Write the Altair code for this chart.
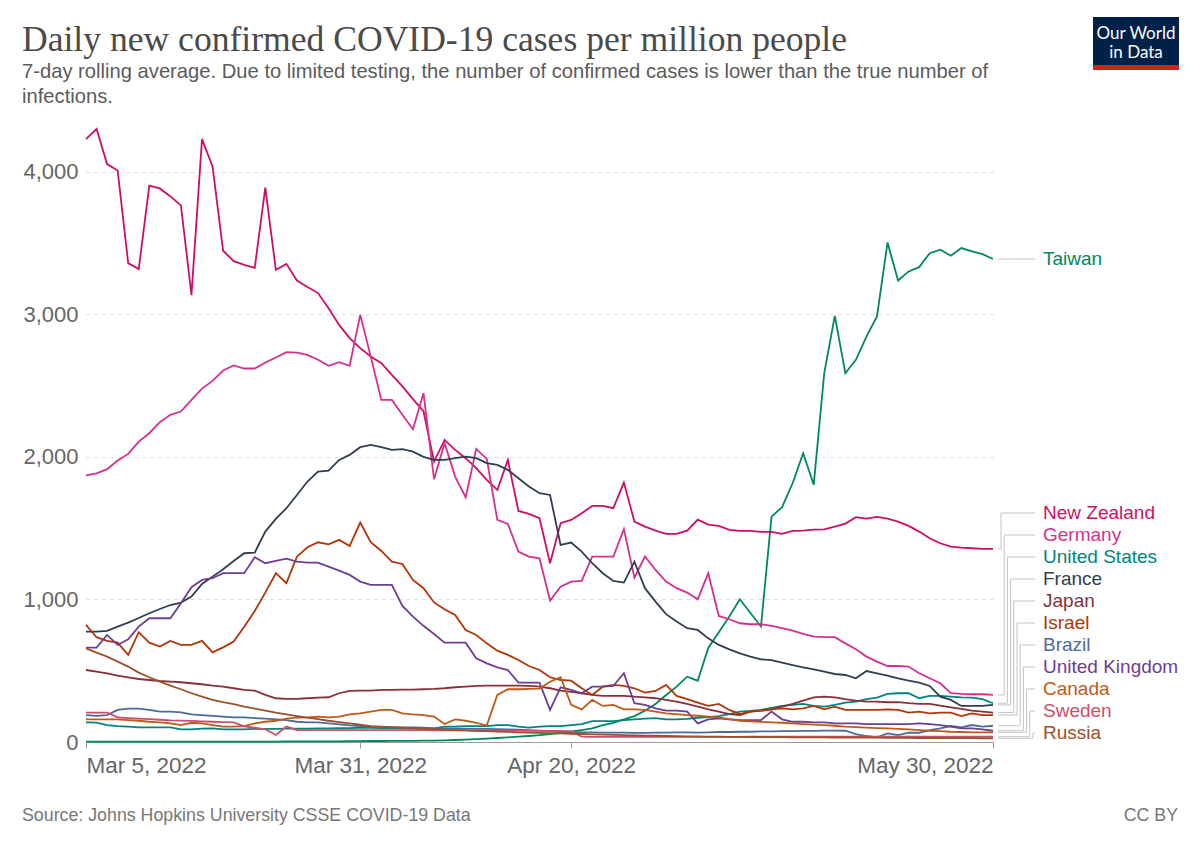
import altair as alt
import pandas as pd

# ---------------- data ----------------
dates = [d.strftime("%Y-%m-%d") for d in pd.date_range("2022-03-05", "2022-05-30")]

new_zealand = [4229, 4300, 4054, 4009, 3359, 3317, 3902, 3883, 3827, 3764, 3135, 4229, 4037, 3446, 3373,
               3347, 3326, 3888, 3312, 3354, 3237, 3191, 3149, 3043, 2926, 2833, 2763, 2704, 2657, 2575,
               2494, 2405, 2320, 1967, 2119, 2049, 1991, 1921, 1839, 1768, 1979, 1621, 1600, 1570, 1254,
               1535, 1558, 1605, 1656, 1656, 1640, 1820, 1546, 1511, 1483, 1460, 1460, 1483, 1560, 1525,
               1516, 1488, 1481, 1481, 1474, 1474, 1460, 1481, 1483, 1490, 1492, 1511, 1532, 1577, 1567,
               1579, 1567, 1546, 1516, 1476, 1429, 1394, 1371, 1364, 1359, 1355, 1355]
germany = [1871, 1885, 1914, 1974, 2021, 2107, 2166, 2243, 2295, 2318, 2400, 2479, 2533, 2606, 2641,
           2620, 2620, 2662, 2697, 2735, 2732, 2716, 2681, 2639, 2664, 2639, 2996, 2704, 2400, 2400,
           2295, 2194, 2447, 1843, 2096, 1862, 1717, 2056, 1986, 1558, 1530, 1336, 1301, 1289, 992,
           1090, 1125, 1130, 1301, 1301, 1301, 1493, 1153, 1301, 1207, 1125, 1079, 1048, 1001, 1184,
           884, 861, 833, 826, 826, 814, 798, 781, 758, 739, 735, 735, 692, 650, 599,
           564, 533, 533, 529, 482, 447, 412, 342, 337, 335, 335, 330]
united_states = [138, 136, 119, 112, 108, 103, 103, 103, 103, 89, 89, 94, 96, 89, 89,
                 89, 92, 92, 92, 94, 94, 94, 96, 96, 98, 98, 100, 100, 98, 98,
                 96, 96, 96, 96, 108, 108, 112, 112, 112, 119, 119, 108, 101, 108, 112,
                 112, 119, 126, 147, 147, 147, 154, 159, 164, 168, 159, 159, 162, 170, 175,
                 182, 195, 213, 218, 225, 240, 253, 260, 267, 253, 248, 260, 276, 283, 300,
                 311, 337, 342, 342, 307, 323, 323, 318, 313, 311, 300, 272]
france = [774, 774, 779, 809, 837, 870, 903, 933, 961, 978, 1020, 1109, 1160, 1212, 1270,
          1324, 1329, 1476, 1565, 1640, 1733, 1827, 1897, 1904, 1979, 2014, 2068, 2084, 2068, 2049,
          2054, 2037, 2000, 1979, 1979, 1991, 2002, 1991, 1956, 1944, 1909, 1850, 1792, 1745, 1733,
          1382, 1399, 1336, 1254, 1184, 1130, 1118, 1265, 1079, 985, 897, 845, 798, 786, 727,
          681, 650, 622, 599, 580, 575, 557, 540, 524, 510, 494, 477, 470, 447, 498,
          482, 465, 447, 430, 416, 393, 318, 295, 253, 253, 253, 260]
japan = [505, 494, 482, 465, 454, 442, 435, 428, 423, 419, 412, 405, 395, 388, 377,
         365, 360, 330, 307, 302, 302, 307, 311, 314, 342, 358, 360, 360, 365, 365,
         367, 367, 370, 372, 377, 384, 388, 393, 395, 395, 395, 395, 393, 388, 377,
         360, 351, 342, 330, 323, 323, 323, 318, 313, 307, 295, 283, 267, 248, 229,
         213, 196, 189, 213, 220, 229, 248, 267, 290, 313, 318, 313, 300, 290, 283,
         283, 279, 279, 272, 267, 267, 255, 243, 232, 220, 213, 206]
israel = [821, 735, 709, 697, 611, 770, 697, 669, 709, 681, 681, 709, 629, 664, 704,
          809, 919, 1048, 1184, 1114, 1300, 1366, 1401, 1387, 1418, 1375, 1539, 1401, 1340, 1265,
          1249, 1137, 1079, 979, 931, 891, 786, 751, 692, 641, 611, 575, 533, 505, 454,
          435, 430, 377, 330, 388, 400, 393, 377, 346, 358, 400, 323, 300, 276, 253,
          267, 225, 196, 213, 220, 229, 236, 229, 236, 253, 229, 248, 225, 225, 225,
          225, 229, 225, 206, 213, 201, 206, 206, 182, 201, 189, 189]
brazil = [189, 183, 189, 225, 234, 234, 225, 213, 213, 208, 194, 189, 183, 178, 173,
          173, 168, 164, 159, 154, 142, 138, 138, 131, 124, 117, 112, 108, 103, 103,
          103, 103, 100, 96, 96, 94, 94, 92, 92, 90, 88, 86, 84, 80, 76,
          72, 70, 68, 68, 66, 66, 66, 64, 64, 66, 66, 68, 68, 66, 68,
          70, 70, 72, 72, 74, 74, 76, 76, 78, 78, 80, 80, 79, 56, 42,
          33, 61, 49, 65, 65, 84, 96, 112, 103, 119, 108, 114]
united_kingdom = [662, 662, 751, 681, 721, 809, 868, 868, 868, 973, 1086, 1137, 1149, 1184, 1184,
                  1184, 1296, 1254, 1270, 1286, 1265, 1258, 1258, 1230, 1202, 1172, 1125, 1102, 1102, 1102,
                  954, 879, 815, 757, 697, 697, 697, 587, 552, 524, 505, 416, 416, 416, 225,
                  384, 365, 342, 388, 388, 393, 482, 272, 260, 236, 220, 220, 213, 131, 159,
                  166, 159, 154, 154, 154, 213, 159, 142, 142, 138, 138, 131, 131, 131, 126,
                  126, 126, 126, 126, 131, 126, 119, 108, 96, 96, 89, 79]
canada = [159, 159, 159, 159, 154, 149, 142, 138, 131, 119, 135, 131, 119, 108, 108,
          112, 131, 142, 149, 164, 171, 173, 178, 173, 178, 194, 201, 213, 225, 225,
          201, 194, 189, 178, 126, 159, 149, 135, 115, 330, 370, 370, 372, 375, 423,
          454, 260, 229, 295, 253, 260, 229, 229, 225, 213, 201, 196, 189, 184, 178,
          173, 160, 149, 145, 142, 138, 135, 130, 126, 122, 119, 114, 108, 105, 101,
          98, 96, 92, 89, 84, 79, 76, 72, 70, 68, 68, 68]
sweden = [206, 206, 206, 173, 168, 164, 160, 156, 152, 150, 148, 145, 142, 140, 138,
          110, 100, 89, 49, 108, 84, 84, 84, 84, 84, 84, 84, 84, 84, 84,
          84, 84, 84, 82, 82, 82, 82, 80, 80, 80, 80, 80, 78, 78, 78,
          78, 76, 38, 36, 36, 36, 36, 36, 36, 36, 36, 36, 36, 36, 36,
          36, 36, 36, 37, 37, 37, 37, 37, 37, 37, 37, 37, 37, 37, 37,
          37, 37, 37, 37, 37, 37, 37, 37, 37, 37, 37, 37]
russia = [657, 627, 599, 564, 529, 487, 454, 423, 395, 370, 342, 318, 295, 279, 265,
          248, 234, 220, 206, 194, 182, 171, 161, 149, 140, 131, 121, 112, 108, 104,
          100, 96, 93, 90, 87, 84, 81, 78, 76, 73, 71, 68, 66, 64, 62,
          60, 58, 56, 54, 52, 50, 48, 47, 45, 44, 42, 41, 40, 39, 38,
          37, 36, 36, 35, 35, 34, 34, 33, 33, 32, 32, 31, 31, 30, 30,
          30, 29, 29, 29, 28, 28, 28, 27, 27, 27, 26, 26]
taiwan = [2, 2, 2, 2, 2, 2, 2, 2, 2, 3, 3, 3, 3, 3, 3,
          3, 3, 3, 3, 4, 4, 4, 5, 5, 5, 6, 6, 7, 7, 8,
          8, 8, 9, 10, 12, 14, 17, 20, 24, 28, 32, 37, 42, 48, 56,
          63, 72, 84, 96, 119, 135, 159, 182, 220, 267, 330, 388, 458, 430, 660,
          770, 880, 1001, 905, 810, 1581, 1647, 1815, 2026, 1804, 2587, 2989, 2587, 2681, 2844,
          2985, 3504, 3237, 3301, 3331, 3429, 3453, 3411, 3465, 3441, 3422, 3388]

countries = ["Taiwan", "New Zealand", "Germany", "United States", "France", "Japan", "Israel",
             "Brazil", "United Kingdom", "Canada", "Sweden", "Russia"]
palette = ["#00875E", "#CC0F66", "#D4308E", "#00847E", "#2F3E51", "#883039", "#B13507",
           "#4C6A9C", "#6D3E91", "#C05917", "#C9506A", "#9A5129"]
series = {
    "Taiwan": taiwan, "New Zealand": new_zealand, "Germany": germany,
    "United States": united_states, "France": france, "Japan": japan, "Israel": israel,
    "Brazil": brazil, "United Kingdom": united_kingdom, "Canada": canada,
    "Sweden": sweden, "Russia": russia,
}

title = "Daily new confirmed COVID-19 cases per million people"
subtitle = ["7-day rolling average. Due to limited testing, the number of confirmed cases is lower than the true number of",
            "infections."]
source = "Source: Johns Hopkins University CSSE COVID-19 Data"
licence = "CC BY"

SANS = "Liberation Sans"
SERIF = "Liberation Serif"

# ---------------- build table ----------------
rows = []
for c in countries:
    for d, v in zip(dates, series[c]):
        rows.append({"country": c, "date": d, "value": v})
df = pd.DataFrame(rows)

W, H = 907, 613
YMAX = float(df["value"].max())
ppu = H / YMAX  # pixels per unit

# label layout: stack labels from the bottom with a minimum gap
finals = {c: series[c][-1] for c in countries}
asc = sorted(countries, key=lambda c: finals[c])
label_px = {}
prev = None
for c in asc:
    p = H - finals[c] * ppu
    p = min(p, H - 9) if prev is None else min(p, prev - 22)
    label_px[c] = p
    prev = p
label_v = {c: (H - label_px[c]) / ppu for c in countries}

color_scale = alt.Scale(domain=countries, range=palette)

start = alt.DateTime(year=2022, month=3, date=5, utc=True)
end = alt.DateTime(year=2022, month=5, date=30, utc=True)
tick_dates = [start,
              alt.DateTime(year=2022, month=3, date=31, utc=True),
              alt.DateTime(year=2022, month=4, date=20, utc=True),
              end]

lines = alt.Chart(df).mark_line(strokeWidth=1.8).encode(
    x=alt.X("date:T", title=None,
            scale=alt.Scale(type="utc", domain=[start, end]),
            axis=alt.Axis(values=tick_dates,
                          labelExpr="utcFormat(datum.value, '%b %-d, %Y')",
                          labelFlush=True, grid=False, domainColor="#9a9a9a",
                          tickColor="#9a9a9a", tickSize=6, labelPadding=6,
                          labelFontSize=22.5, labelColor="#666666", labelFont=SANS)),
    y=alt.Y("value:Q", title=None,
            scale=alt.Scale(domain=[0, YMAX], nice=False),
            axis=alt.Axis(values=[0, 1000, 2000, 3000, 4000], format=",d",
                          domain=False, ticks=False, labelPadding=8,
                          gridColor="#dddddd", gridDash=[4, 4], gridWidth=1,
                          labelFontSize=22, labelColor="#666666", labelFont=SANS)),
    color=alt.Color("country:N", scale=color_scale, legend=None),
)

layers = [lines]

# leader lines + labels
x0, x_end, x_text = 912, 949, 957
for k, c in enumerate(asc):
    elbow = 947 - 3.2 * k
    one = pd.DataFrame({"v": [finals[c]], "lv": [label_v[c]]})
    base = alt.Chart(one).mark_rule(color="#c4c4c4", strokeWidth=1)
    layers.append(base.encode(x=alt.value(x0), x2=alt.value(elbow), y=alt.Y("v:Q")))
    layers.append(base.encode(x=alt.value(elbow), y=alt.Y("v:Q"), y2=alt.Y2("lv")))
    layers.append(base.encode(x=alt.value(elbow), x2=alt.value(x_end), y=alt.Y("lv:Q")))

lab_df = pd.DataFrame({"country": countries, "lv": [label_v[c] for c in countries]})
layers.append(
    alt.Chart(lab_df).mark_text(align="left", baseline="middle", fontSize=19, font=SANS).encode(
        x=alt.value(x_text), y=alt.Y("lv:Q"), text="country:N",
        color=alt.Color("country:N", scale=color_scale, legend=None))
)


def text_layer(txt, x, y, size, color, font=SANS, align="left", baseline="middle"):
    return alt.Chart(pd.DataFrame({"t": [txt]})).mark_text(
        align=align, baseline=baseline, fontSize=size, font=font, color=color
    ).encode(x=alt.value(x), y=alt.value(y), text="t:N")


layers.append(text_layer(title, -64, -78, 35.6, "#4a4a4a", font=SERIF, baseline="alphabetic"))
layers.append(text_layer(subtitle[0], -64, -57, 20.2, "#5b5b5b"))
layers.append(text_layer(subtitle[1], -64, -32, 20.2, "#5b5b5b"))
layers.append(text_layer(source, -64, 687, 17.8, "#777777"))
layers.append(text_layer(licence, 1092, 687, 17.8, "#777777", align="right"))

# logo
logo = pd.DataFrame({"t": ["x"]})
layers.append(alt.Chart(logo).mark_rect(color="#002147").encode(
    x=alt.value(1007), x2=alt.value(1093), y=alt.value(-112), y2=alt.value(-64)))
layers.append(alt.Chart(logo).mark_rect(color="#ce261e").encode(
    x=alt.value(1007), x2=alt.value(1093), y=alt.value(-64), y2=alt.value(-59)))
layers.append(text_layer("Our World", 1050, -95, 17, "#ffffff", font="Lato", align="center"))
layers.append(text_layer("in Data", 1050, -76, 17, "#ffffff", font="Lato", align="center"))

chart = alt.layer(*layers).properties(
    width=W, height=H,
    autosize=alt.AutoSizeParams(type="none"),
    padding={"left": 78, "top": 121, "right": 190, "bottom": 90},
).configure(font=SANS).configure_view(stroke=None)

chart.save("out.html", embed_options={"renderer": "svg", "actions": False})
